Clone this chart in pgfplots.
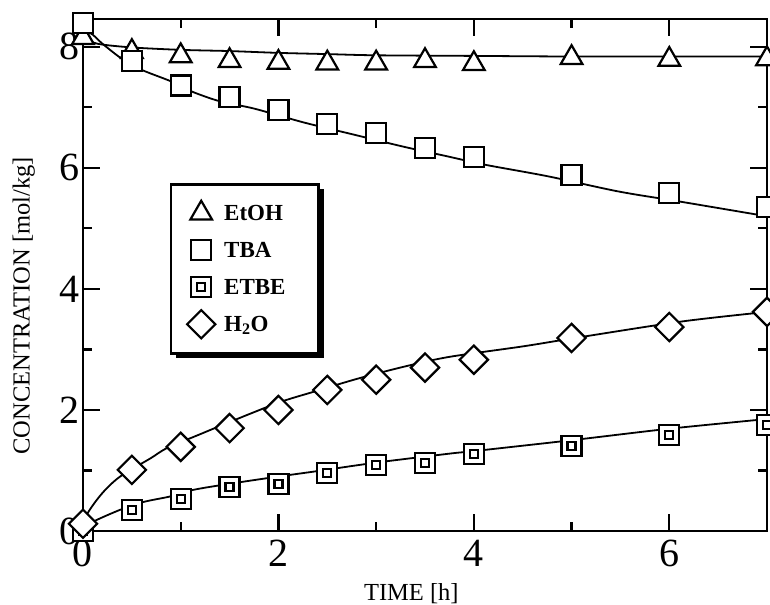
\documentclass[border=0pt]{standalone}
\usepackage{pgfplots}
\pgfplotsset{compat=1.18}
\usepackage{fontspec}
\setmainfont{Liberation Serif}
\usetikzlibrary{shadows}

\pgfdeclareplotmark{dsquare}{%
  \pgfpathrectangle{\pgfqpoint{-\pgfplotmarksize}{-\pgfplotmarksize}}{\pgfqpoint{2\pgfplotmarksize}{2\pgfplotmarksize}}%
  \pgfusepathqfillstroke
  \pgfpathrectangle{\pgfqpoint{-0.4\pgfplotmarksize}{-0.4\pgfplotmarksize}}{\pgfqpoint{0.8\pgfplotmarksize}{0.8\pgfplotmarksize}}%
  \pgfusepathqstroke
}

\pgfplotsset{
  lg/.style={only marks,
    legend image code/.code={%
      \pgfinterruptboundingbox
      \draw[##1] plot coordinates {(15pt,0pt)};
      \endpgfinterruptboundingbox
      \pgfpathrectangle{\pgfqpoint{0pt}{-9pt}}{\pgfqpoint{28pt}{18pt}}%
      \pgfusepath{use as bounding box}}},
  fit/.style={line width=1.8pt, smooth, black, forget plot, mark=none}
}

\begin{document}
\begin{tikzpicture}
\begin{axis}[
  scale only axis, width=684pt, height=512pt,
  xmin=0, xmax=7, ymin=0, ymax=8.46,
  axis line style={line width=2.2pt},
  xtick={0,2,4,6}, minor xtick={1,3,5},
  ytick={0,2,4,6,8}, minor ytick={1,3,5,7},
  tick align=inside,
  major tick length=17pt, minor tick length=9pt,
  tick style={line width=2.2pt, black},
  /pgf/number format/assume math mode=true,
  ticklabel style={font=\fontsize{40}{40}\selectfont},
  xticklabel style={inner sep=0pt, yshift=-9pt},
  yticklabel style={inner sep=0pt, xshift=-3pt},
  xlabel={TIME [h]},
  ylabel={CONCENTRATION [mol/kg]},
  xlabel style={font=\fontsize{24.5}{24.5}\selectfont, at={(axis description cs:0.48,-0.1367)}, anchor=base},
  ylabel style={font=\fontsize{24.5}{24.5}\selectfont, at={(axis description cs:-0.078,0.44)}, anchor=base},
  legend cell align=left,
  legend style={at={(axis cs:0.89,5.75)}, anchor=north west, draw=black, line width=2.5pt, fill=white,
    drop shadow={shadow xshift=5pt, shadow yshift=-5pt, fill=black, opacity=1},
    inner xsep=15pt, inner ysep=20pt, row sep=19pt, column sep=10pt,
    font=\bfseries\fontsize{23}{23}\selectfont,
    nodes={inner sep=0pt, text height=16pt, text depth=2pt}},
]
% fitted curves
\addplot[fit] coordinates {(0,8.15) (0.15,8.05) (0.5,7.99) (1,7.95) (1.5,7.93) (2,7.9) (2.5,7.88) (3,7.86) (4,7.85) (5,7.84) (6,7.84) (7,7.84)};
\addplot[fit] coordinates {(0,8.3) (0.1,8.2) (0.2,8.05) (0.4,7.8) (0.6,7.62) (0.9,7.43) (1.1,7.27) (1.4,7.1) (1.75,6.98) (2.26,6.75) (2.77,6.55) (3.28,6.35) (3.73,6.19) (4.12,6.05) (4.76,5.86) (5.48,5.61) (6.12,5.44) (7,5.2)};
\addplot[fit] coordinates {(0,0.02) (0.1,0.15) (0.38,0.35) (0.62,0.48) (0.89,0.57) (1.13,0.68) (1.5,0.78) (2,0.9) (2.4,0.99) (3,1.13) (3.76,1.28) (4,1.32) (5,1.5) (6,1.69) (7,1.85)};
\addplot[fit] coordinates {(0,0.05) (0.05,0.3) (0.2,0.63) (0.38,0.9) (0.69,1.2) (0.86,1.37) (1.2,1.6) (1.5,1.8) (2,2.12) (2.36,2.3) (2.84,2.53) (3.35,2.74) (3.76,2.88) (4.5,3.05) (5,3.18) (6.12,3.46) (7,3.62)};
% data
\addplot[lg, black, mark=triangle*, mark size=12.5pt, mark options={fill=white, line width=2.2pt}] coordinates {(0,8.15) (0.5,7.92) (1,7.85) (1.5,7.77) (2,7.74) (2.5,7.73) (3,7.73) (3.5,7.77) (4,7.72) (5,7.82) (6,7.79) (7,7.8)};
\addlegendentry{EtOH}
\addplot[lg, black, mark=square*, mark size=10pt, mark options={fill=white, line width=2.2pt}] coordinates {(0,8.4) (0.5,7.77) (1,7.36) (1.5,7.17) (2,6.96) (2.5,6.72) (3,6.58) (3.5,6.33) (4,6.18) (5,5.88) (6,5.59) (7,5.36)};
\addlegendentry{TBA}
\addplot[lg, black, mark=dsquare, mark size=10pt, mark options={fill=white, line width=2.2pt}] coordinates {(0,0.0) (0.5,0.35) (1,0.53) (1.5,0.73) (2,0.78) (2.5,0.96) (3,1.09) (3.5,1.12) (4,1.27) (5,1.4) (6,1.59) (7,1.75)};
\addlegendentry{ETBE\hspace*{18pt}}
\addplot[lg, black, mark=square*, mark size=10pt, mark options={fill=white, line width=2.2pt, rotate=45}] coordinates {(0,0.12) (0.5,1.01) (1,1.39) (1.5,1.7) (2,2.0) (2.5,2.33) (3,2.5) (3.5,2.7) (4,2.83) (5,3.19) (6,3.37) (7,3.62)};
\addlegendentry{H\textsubscript{2}O}
\end{axis}
\pgfresetboundingbox
\path ([shift={(-83pt,-74pt)}]current axis.south west) rectangle ([shift={(3pt,19pt)}]current axis.north east);
\end{tikzpicture}
\end{document}
